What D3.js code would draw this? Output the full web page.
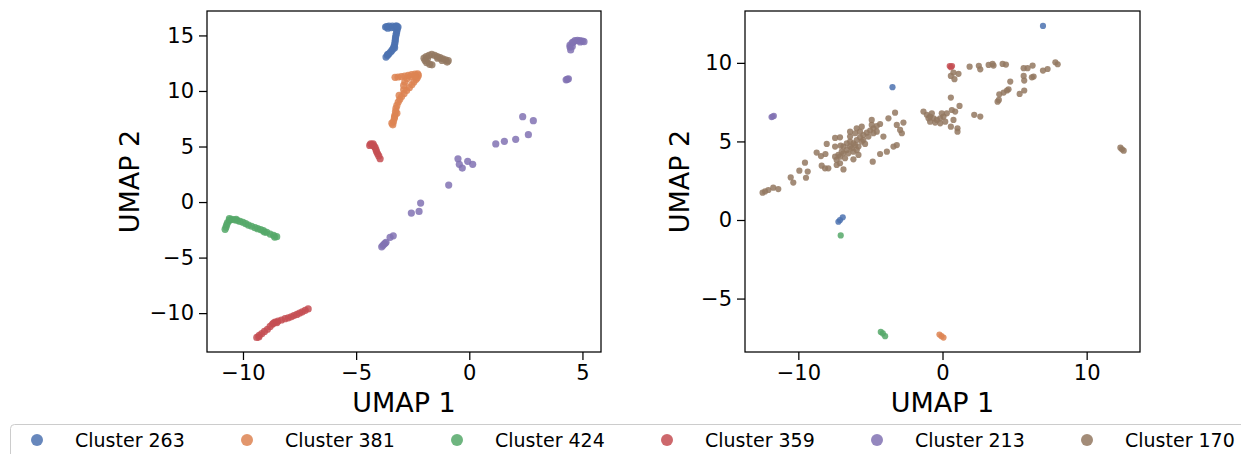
<!DOCTYPE html>
<html>
<head>
<meta charset="utf-8">
<script src="https://cdn.jsdelivr.net/npm/d3@7"></script>
<style>
  body { margin: 0; background: #fff; }
  svg { font-family: "DejaVu Sans", sans-serif; }
</style>
</head>
<body>
<div id="chart"></div>
<script>
// cluster names and colours (seaborn "deep")
const clusterNames = ["Cluster 263", "Cluster 381", "Cluster 424", "Cluster 359", "Cluster 213", "Cluster 170"];
const clusterColors = ["#4c72b0", "#dd8452", "#55a868", "#c44e52", "#8172b3", "#937860"];

// tick values
const leftXTicks = [-10, -5, 0, 5];
const leftYTicks = [-10, -5, 0, 5, 10, 15];
const rightXTicks = [-10, 0, 10];
const rightYTicks = [-5, 0, 5, 10];

// left panel points [umap1, umap2]
const left263 = [[-3.68,13.05],[-3.62,13.2],[-3.55,13.35],[-3.48,13.5],[-3.42,13.65],[-3.37,13.8],[-3.33,14.0],[-3.3,14.2],[-3.28,14.4],[-3.27,14.6],[-3.26,14.8],[-3.24,15.0],[-3.22,15.2],[-3.2,15.4],[-3.18,15.6],[-3.15,15.75],[-3.25,15.85],[-3.4,15.85],[-3.55,15.85],[-3.65,15.8],[-3.6,15.65],[-3.45,15.7],[-3.3,15.7],[-3.2,15.85],[-3.3,13.9],[-3.6,13.3],[-3.7,15.75]];
const left381 = [[-3.28,11.23],[-3.15,11.26],[-3.0,11.3],[-2.85,11.35],[-2.7,11.4],[-2.55,11.47],[-2.4,11.53],[-2.28,11.55],[-2.25,11.4],[-2.3,11.2],[-2.35,11.05],[-2.45,10.8],[-2.54,10.55],[-2.65,10.3],[-2.77,10.05],[-2.88,9.78],[-2.99,9.5],[-3.07,9.25],[-3.14,9.0],[-3.2,8.7],[-3.24,8.44],[-3.26,8.15],[-3.28,7.85],[-3.31,7.55],[-3.35,7.25],[-3.38,6.95],[-3.42,7.1],[-3.3,7.7],[-3.2,8.0],[-2.6,11.3],[-2.4,11.35],[-3.1,9.6],[-2.9,10.1],[-2.75,11.1],[-2.85,10.8],[-2.9,10.5]];
const left424 = [[-10.79,-2.46],[-10.75,-2.25],[-10.72,-2.05],[-10.68,-1.85],[-10.6,-1.65],[-10.5,-1.56],[-10.38,-1.6],[-10.25,-1.67],[-10.13,-1.74],[-10.0,-1.82],[-9.88,-1.95],[-9.76,-2.07],[-9.62,-2.18],[-9.47,-2.31],[-9.35,-2.4],[-9.22,-2.48],[-9.1,-2.58],[-8.95,-2.72],[-8.8,-2.88],[-8.65,-3.0],[-8.51,-3.12],[-10.6,-1.5],[-10.3,-1.55],[-9.05,-2.7],[-8.6,-3.15]];
const left359 = [[-4.36,5.23],[-4.3,5.15],[-4.22,5.05],[-4.17,4.95],[-4.13,4.75],[-4.1,4.55],[-4.05,4.35],[-4.0,4.15],[-3.94,3.9],[-4.4,5.1],[-4.25,5.25],
  [-9.39,-12.19],[-9.28,-12.0],[-9.17,-11.85],[-9.05,-11.65],[-8.92,-11.45],[-8.8,-11.2],[-8.7,-11.0],[-8.58,-10.8],[-8.45,-10.72],[-8.3,-10.62],[-8.14,-10.5],[-8.0,-10.42],[-7.87,-10.33],[-7.75,-10.22],[-7.62,-10.12],[-7.5,-10.0],[-7.38,-9.88],[-7.25,-9.75],[-7.12,-9.62],[-8.65,-10.9],[-9.3,-12.15],[-8.5,-10.85]];
const left213 = [[4.45,14.14],[4.55,14.35],[4.67,14.53],[4.78,14.55],[4.89,14.53],[5.0,14.5],[5.07,14.44],[4.45,13.95],[4.48,13.7],[4.55,14.0],[4.6,14.4],[4.9,14.42],
  [4.33,11.05],[4.38,11.1],[4.28,11.0],
  [2.36,7.69],[2.83,7.33],[2.61,6.07],[2.05,5.65],[1.55,5.47],[1.17,5.23],[-0.5,3.9],[-0.44,3.4],[-0.31,3.06],[-0.07,3.67],[0.15,3.4],[-0.91,1.53],[-2.15,-0.09],[-2.56,-0.99],[-2.22,-0.84],[-3.36,-3.04],[-3.5,-3.18],
  [-3.87,-4.03],[-3.82,-3.92],[-3.77,-3.81],[-3.72,-3.72],[-3.68,-3.63]];
const left170 = [[-0.93,12.73],[-1.05,12.8],[-1.17,12.9],[-1.29,13.0],[-1.41,13.1],[-1.53,13.2],[-1.66,13.3],[-1.78,13.2],[-1.9,13.1],[-2.0,12.95],[-1.95,12.75],[-1.88,12.55],[-1.75,12.4],[-1.65,12.35],[-1.85,12.9],[-0.98,12.6],[-1.2,12.75],[-1.4,12.95]];

// right panel points [umap1, umap2]
const right263 = [[6.97,12.35],[-3.47,8.45],[-7.22,-0.11],[-7.11,0.0],[-6.92,0.17]];
const right381 = [[-0.21,-7.29],[-0.07,-7.39],[0.07,-7.48]];
const right424 = [[-7.06,-0.98],[-4.28,-7.12],[-4.14,-7.22],[-3.98,-7.39]];
const right359 = [[0.5,9.8],[0.58,9.72],[0.66,9.8]];
const right213 = [[-11.86,6.55],[-11.78,6.58],[-11.7,6.62]];
const right170 = [[-12.48,1.74],[-12.31,1.82],[-12.08,1.91],[-11.74,2.06],[-11.39,1.97],[-10.53,2.71],[-10.35,2.38],[-9.93,3.14],[-9.54,3.65],[-9.47,2.69],[-9.35,3.08],[-8.73,4.29],[-8.43,4.07],[-8.12,4.2],[-8.38,3.46],[-8.15,3.29],[-7.92,3.29],[-8.03,4.84],[-7.45,5.22],[-7.11,5.26],[-7.45,4.67],[-7.06,4.73],[-6.41,5.62],[-5.95,5.84],[-5.6,5.94],[-4.91,6.37],[-4.33,6.11],[-3.75,6.47],[-3.29,6.83],[-3.17,6.05],[-2.71,6.2],[-2.94,5.73],[-2.82,5.52],[-4.1,5.31],[-3.4,4.67],[-3.17,4.77],[-3.86,4.35],[-4.33,4.2],[-4.84,3.71],[-5.83,4.14],[-6.18,3.86],[-6.87,3.22],[-7.34,3.5],
  [-7.34,3.82],[-7.11,4.03],[-6.87,4.24],[-6.64,4.46],[-6.41,4.67],[-6.18,4.88],[-5.95,5.09],[-5.72,5.26],[-5.49,5.41],[-5.25,5.56],[-5.02,5.69],[-4.79,5.84],[-4.56,5.98],[-7.11,3.61],[-6.76,3.93],[-6.53,4.24],[-6.3,4.56],[-6.06,4.77],[-6.87,4.67],[-6.41,4.99],[-5.83,4.67],[-5.49,5.09],[-5.14,5.31],[-4.79,5.52],[-5.37,4.84],[-7.22,4.14],[-7.45,4.03],
  [-6.41,5.31],[-6.06,5.52],[-5.72,5.62],[-6.64,4.88],[-6.99,4.35],[-6.18,4.35],[-5.6,4.99],[-4.91,6.05],[-4.56,5.62],[-5.95,4.46],
  [-1.32,6.9],[-1.09,6.69],[-0.86,6.58],[-0.62,6.47],[-0.39,6.37],[-0.16,6.47],[0.07,6.58],[-0.86,6.26],[-0.51,6.2],[-0.16,6.15],[0.19,6.26],[0.3,6.79],[0.65,7.0],[0.88,6.9],[1.18,7.26],[0.58,7.79],[0.58,5.94],[1.04,5.84],[1.04,5.62],[0.76,6.37],[-0.74,6.79],[-0.97,6.47],[-0.05,6.79],
  [0.58,9.17],[0.83,8.96],[1.11,9.3],[0.76,9.38],[1.88,9.76],[2.52,9.81],[2.62,9.59],[3.2,9.87],[3.47,9.93],[3.54,9.83],[4.17,9.93],[4.4,9.89],[5.63,9.66],[5.9,9.66],[6.25,9.83],[5.63,9.17],[5.67,8.87],[6.2,9.08],[6.32,9.13],[6.97,9.51],[7.29,9.61],[7.83,10.04],[7.99,9.91],[4.7,8.81],[3.94,8.0],[4.24,8.11],[4.47,8.24],[4.58,8.32],[3.82,7.53],[3.91,7.64],[5.35,8.02],[5.67,8.24],[2.2,6.69],[2.62,6.58],
  [12.34,4.6],[12.45,4.5],[12.57,4.41]];

const leftSeries = [left263, left381, left424, left359, left213, left170];
const rightSeries = [right263, right381, right424, right359, right213, right170];

const width = 1241, height = 454;
const svg = d3.select("#chart").append("svg")
    .attr("width", width)
    .attr("height", height);

const fmt = d => d < 0 ? "\u2212" + Math.abs(d) : d;

// draw one scatter panel
function drawPanel(series, box, xDomain, yDomain, xTicks, yTicks, r) {
    const x = d3.scaleLinear().domain(xDomain).range([box.left, box.right]);
    const y = d3.scaleLinear().domain(yDomain).range([box.bottom, box.top]);

    const g = svg.append("g");

    series.forEach((pts, i) => {
        g.append("g").selectAll("circle")
            .data(pts)
            .enter().append("circle")
            .attr("cx", d => x(d[0]))
            .attr("cy", d => y(d[1]))
            .attr("r", r)
            .attr("fill", clusterColors[i])
            .attr("fill-opacity", 0.85);
    });

    g.append("rect")
        .attr("x", box.left).attr("y", box.top)
        .attr("width", box.right - box.left).attr("height", box.bottom - box.top)
        .attr("fill", "none").attr("stroke", "#000").attr("stroke-width", 1.25);

    const xAxis = g.append("g")
        .attr("transform", `translate(0, ${box.bottom})`)
        .call(d3.axisBottom(x).tickValues(xTicks).tickSize(8).tickPadding(5).tickFormat(fmt));
    const yAxis = g.append("g")
        .attr("transform", `translate(${box.left}, 0)`)
        .call(d3.axisLeft(y).tickValues(yTicks).tickSize(8).tickPadding(5).tickFormat(fmt));

    [xAxis, yAxis].forEach(a => {
        a.select(".domain").remove();
        a.selectAll(".tick line").attr("stroke", "#000").attr("stroke-width", 1.25);
        a.selectAll(".tick text")
            .attr("fill", "#000")
            .style("font-family", "DejaVu Sans")
            .style("font-size", "21px");
    });

    g.append("text")
        .attr("x", (box.left + box.right) / 2)
        .attr("y", box.bottom + 60)
        .attr("text-anchor", "middle")
        .style("font-size", "27px")
        .text("UMAP 1");

    g.append("text")
        .attr("transform", `translate(${box.yLabelX}, ${(box.top + box.bottom) / 2}) rotate(-90)`)
        .attr("text-anchor", "middle")
        .style("font-size", "27px")
        .text("UMAP 2");
}

drawPanel(leftSeries, { left: 207, right: 601, top: 11, bottom: 352, yLabelX: 139 },
    [-11.59, 5.82], [-13.5, 17.2], leftXTicks, leftYTicks, 3.6);
drawPanel(rightSeries, { left: 745, right: 1140, top: 11, bottom: 352, yLabelX: 689 },
    [-13.7, 13.7], [-8.4, 13.3], rightXTicks, rightYTicks, 3.1);

// legend
const legend = svg.append("g");
legend.append("rect")
    .attr("x", 10.5).attr("y", 424.5)
    .attr("width", 1260).attr("height", 60)
    .attr("rx", 4)
    .attr("fill", "#fff").attr("stroke", "#ccc").attr("stroke-width", 1);

const legendX = d3.scalePoint().domain(clusterNames).range([37, 1087]);
const items = legend.selectAll(".item")
    .data(clusterNames)
    .enter().append("g")
    .attr("class", "item")
    .attr("transform", d => `translate(${legendX(d)}, 440)`);
items.append("circle")
    .attr("r", 6)
    .attr("fill", (d, i) => clusterColors[i])
    .attr("fill-opacity", 0.85);
items.append("text")
    .attr("x", 38)
    .attr("dy", "0.35em")
    .style("font-size", "19px")
    .text(d => d);
</script>
</body>
</html>
